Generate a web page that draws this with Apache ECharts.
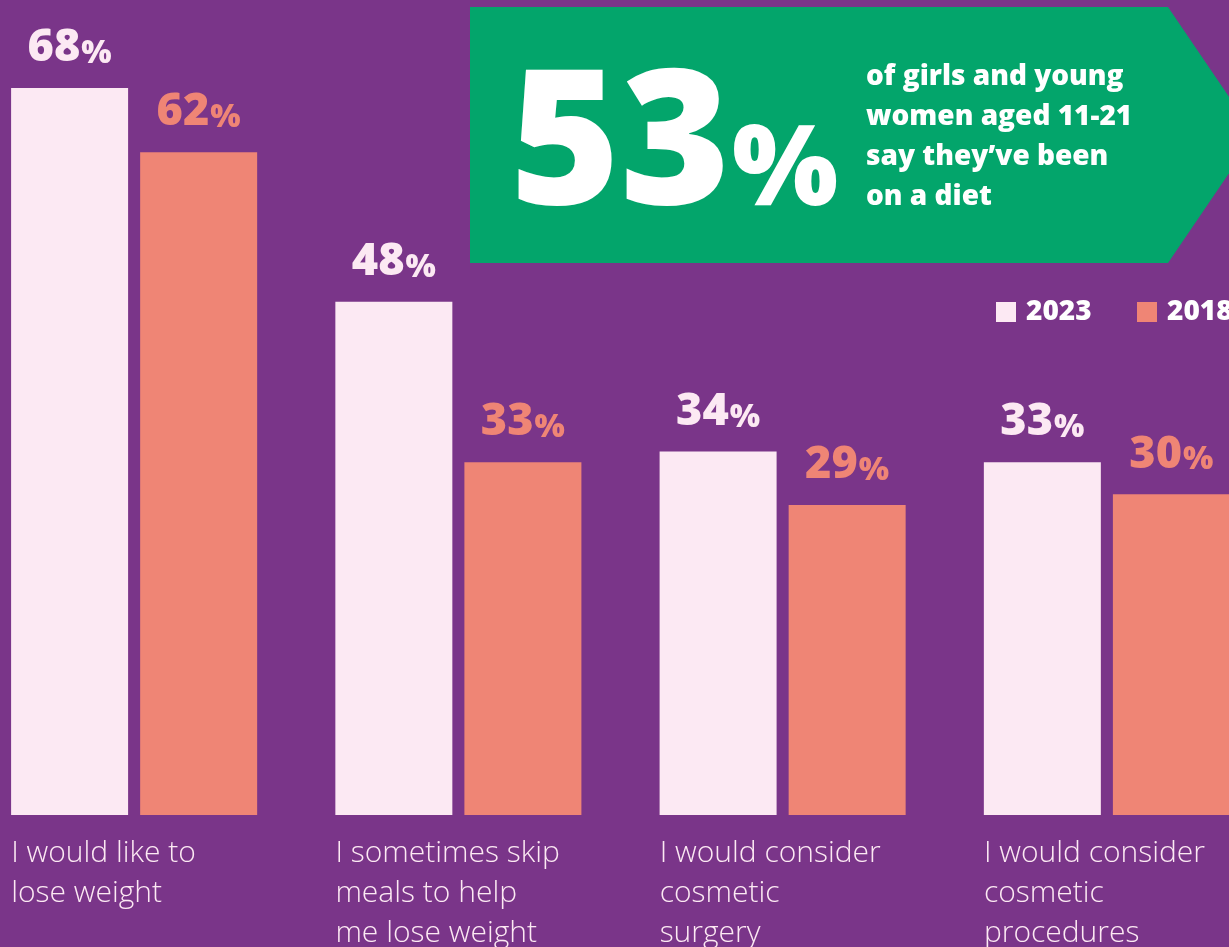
<!DOCTYPE html>
<html>
<head>
<meta charset="utf-8">
<script src="https://cdn.jsdelivr.net/npm/echarts@6/dist/echarts.min.js"></script>
<style>
html,body{margin:0;padding:0;background:#7A3589;}
#chart{width:1229px;height:947px;}
</style>
</head>
<body>
<div id="chart"></div>
<script>
const categories = [
  "I would like to\nlose weight",
  "I sometimes skip\nmeals to help\nme lose weight",
  "I would consider\ncosmetic\nsurgery",
  "I would consider\ncosmetic\nprocedures"
];
const seriesNames = ["2023", "2018"];
const values2023 = [68, 48, 34, 33];
const values2018 = [62, 33, 29, 30];
const headlineValue = "53";
const headlineText = "of girls and young\nwomen aged 11-21\nsay they\u2019ve been\non a diet";

const PINK = "#FCE9F3";
const SALMON = "#EF8575";
const PURPLE = "#7A3589";
const GREEN = "#03A56B";
const BOLD = "'Open Sans', 'Noto Sans', sans-serif";

function valueLabel(color) {
  return {
    show: true,
    position: "top",
    distance: 17,
    formatter: p => "{n|" + p.value + "}{p|%}",
    rich: {
      n: { fontFamily: BOLD, fontWeight: 800, fontSize: 45, color: color, verticalAlign: "bottom", lineHeight: 50 },
      p: { fontFamily: BOLD, fontWeight: 800, fontSize: 32, color: color, verticalAlign: "bottom", lineHeight: 50, padding: [0, 0, 1, 1] }
    }
  };
}

const chart = echarts.init(document.getElementById("chart"));
chart.setOption({
  backgroundColor: PURPLE,
  animation: false,
  grid: { left: -28, width: 1297, top: 0, bottom: 132, containLabel: false, outerBoundsMode: "none" },
  xAxis: {
    type: "category",
    data: categories,
    axisLine: { show: false }, axisTick: { show: false }, axisLabel: { show: false }
  },
  yAxis: {
    type: "value", min: 0, max: 76.23,
    show: false, splitLine: { show: false }
  },
  series: [
    { name: seriesNames[0], type: "bar", data: values2023, barWidth: 117, barGap: "10.3%",
      itemStyle: { color: PINK }, label: valueLabel(PINK) },
    { name: seriesNames[1], type: "bar", data: values2018, barWidth: 117,
      itemStyle: { color: SALMON }, label: valueLabel(SALMON) }
  ]
});

// category labels, left-aligned under each group's first bar
const catGraphics = categories.map((c, i) => {
  const cx = chart.convertToPixel({ xAxisIndex: 0 }, i);
  return {
    type: "text", left: cx - 123, top: 833,
    style: { text: c, fill: PINK, fontFamily: "'Open Sans', sans-serif", fontWeight: 300, fontSize: 30, lineHeight: 40 }
  };
});

// legend drawn as graphics (it runs off the right edge in the original)
const legendColors = [PINK, SALMON];
const legendX = [996, 1137];
const legendGraphics = [];
seriesNames.forEach((n, i) => {
  legendGraphics.push({ type: "rect", shape: { x: legendX[i], y: 302, width: 20, height: 20 }, style: { fill: legendColors[i] } });
  legendGraphics.push({ type: "text", x: legendX[i] + 30, y: 312, style: { text: n, fill: "#FFFFFF", fontFamily: BOLD, fontWeight: 800, fontSize: 28, verticalAlign: "middle", textAlign: "left" } });
});

chart.setOption({
  graphic: [
    { type: "polygon", shape: { points: [[470, 7], [1168, 7], [1255, 135], [1168, 263], [470, 263]] }, style: { fill: GREEN } },
    { type: "text", left: 510, top: 56, style: { text: headlineValue, fill: "#FFFFFF", fontFamily: BOLD, fontWeight: 800, fontSize: 188 } },
    { type: "text", left: 732, top: 117, style: { text: "%", fill: "#FFFFFF", fontFamily: BOLD, fontWeight: 800, fontSize: 112 } },
    { type: "text", left: 866, top: 57, style: { text: headlineText, fill: "#FFFFFF", fontFamily: BOLD, fontWeight: 800, fontSize: 28, lineHeight: 40 } }
  ].concat(catGraphics, legendGraphics)
});
</script>
</body>
</html>
